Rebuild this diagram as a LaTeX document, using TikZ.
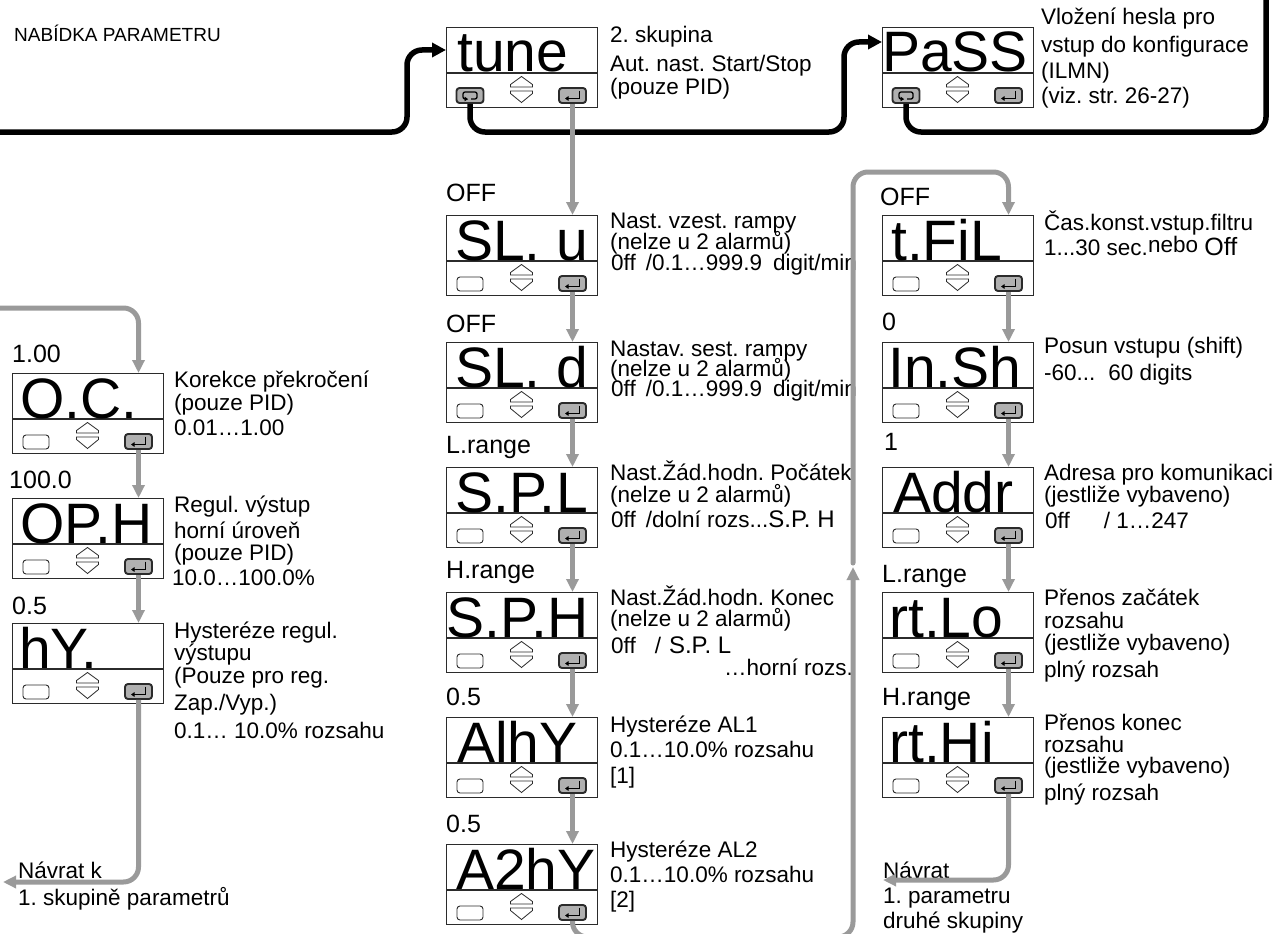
\documentclass[tikz,border=0pt]{standalone}
\usepackage{fontspec}
\setmainfont{Liberation Sans}
\newfontfamily\disptight{Liberation Sans}[WordSpace=0.05]
\usetikzlibrary{arrows.meta,calc}
\definecolor{lgray}{HTML}{9A9A9A}
\definecolor{btngray}{HTML}{B0B0B0}
\definecolor{dk}{HTML}{2B2B2B}
\frenchspacing
\tikzset{
 desc/.style={anchor=base west, inner sep=0pt, font=\fontsize{22.5}{24}\selectfont},
 descr/.style={desc, anchor=base east},
 lbl/.style={anchor=base west, inner sep=0pt, font=\fontsize{25}{26}\selectfont},
 ttl/.style={anchor=base west, inner sep=0pt, font=\fontsize{19}{20}\selectfont},
 dbox/.style={draw=dk, line width=1.1pt, minimum width=151pt, minimum height=80pt, anchor=north west, inner sep=0pt},
 dtxt/.style={anchor=base west, inner sep=0pt, font=\fontsize{57}{57}\selectfont},
 btnplain/.style={draw=dk, line width=0.9pt, rounded corners=3pt, minimum width=26pt, minimum height=14pt, inner sep=0pt, fill=white},
 btndark/.style={draw=dk, line width=1.9pt, rounded corners=3pt, minimum width=27pt, minimum height=15pt, inner sep=0pt, fill=btngray},
 chev/.style={draw=dk, line width=0.8pt},
 sym/.style={draw=black, line width=1.3pt},
 symarr/.style={-{Triangle[width=4.5pt,length=3.5pt]}},
 blk/.style={draw=black, line width=5.5pt, rounded corners=15pt},
 barr/.style={-{Triangle[width=14pt,length=14pt]}},
 gry/.style={draw=lgray, line width=5pt, rounded corners=15pt},
 garr/.style={-{Triangle[width=12pt,length=13pt]}},
 pics/disp/.style n args={3}{code={
   \node[dbox] (-box) at (0,0) {};
   \draw[draw=dk, line width=1.1pt] (0,46) -- (151,46);
   \node[dtxt] (-txt) at (#2,45) {#1};
   \draw[chev] (64.5,60) -- (64.5,57.5) -- (75.5,49.5) -- (86.5,57.5) -- (86.5,60) -- cycle;
   \draw[chev] (64.5,64) -- (86.5,64) -- (86.5,66.5) -- (75.5,75.5) -- (64.5,66.5) -- cycle;
   \ifnum#3=1
     \node[btndark] (-left) at (24,68.5) {};
     \draw[sym, rounded corners=2pt, symarr] (25,72) -- (31,72) -- (31,65) -- (17,65) -- (17,72) -- (22,72);
   \else
     \node[btnplain] (-left) at (24,69) {};
   \fi
   \node[btndark] (-enter) at (126.5,68.5) {};
   \draw[sym, symarr] (133.5,63.5) -- (133.5,71.5) -- (119,71.5);
 }}
}
\begin{document}
\begin{tikzpicture}[x=1pt,y=-1pt]
\fill[white] (0,0) rectangle (1280,934);
\useasboundingbox (0,0) rectangle (1280,934);

\node[ttl] (title) at (14,42) {NABÍDKA PARAMETRU};

% ---------- display boxes ----------
\pic (tune) at (446,27) {disp={tune}{11}{1}};
\pic (PaSS) at (882,27) {disp={PaSS}{0}{1}};

\pic (OC)  at (12,373) {disp={O.C.}{8}{0}};
\pic (OPH) at (12,498) {disp={{\disptight OP. H}}{8}{0}};
\pic (hY)  at (12,623) {disp={hY.}{7}{0}};

\pic (SLu)  at (446,215) {disp={SL. u}{9}{0}};
\pic (SLd)  at (446,342) {disp={SL. d}{9}{0}};
\pic (SPL)  at (446,467) {disp={{\disptight S.P. L}}{9}{0}};
\pic (SPH)  at (446,592) {disp={{\disptight S.P. H}}{0.3}{0}};
\pic (AlhY) at (446,717) {disp={AlhY}{11}{0}};
\pic (A2hY) at (446,844) {disp={A2hY}{10}{0}};

\pic (tFiL) at (882,215) {disp={t.FiL}{9}{0}};
\pic (InSh) at (882,342) {disp={In.Sh}{6}{0}};
\pic (Addr) at (882,467) {disp={Addr}{11}{0}};
\pic (rtLo) at (882,592) {disp={rt.Lo}{7}{0}};
\pic (rtHi) at (882,717) {disp={rt.Hi}{7}{0}};

% ---------- value labels ----------
\node[lbl] (vOC)  at (12,362) {1.00};
\node[lbl] (vOPH) at (9,488) {100.0};
\node[lbl] (vhY)  at (12,614) {0.5};
\node[lbl] (vSLu) at (446,201) {OFF};
\node[lbl] (vSLd) at (446,332) {OFF};
\node[lbl] (vSPL) at (446,453) {L.range};
\node[lbl] (vSPH) at (446,578) {H.range};
\node[lbl] (vA1)  at (446,705) {0.5};
\node[lbl] (vA2)  at (446,832) {0.5};
\node[lbl] (vtF)  at (880,205) {OFF};
\node[lbl] (vIn)  at (882,330) {0};
\node[lbl] (vAd)  at (884,450) {1};
\node[lbl] (vLo)  at (882,582) {L.range};
\node[lbl] (vHi)  at (882,705) {H.range};

% ---------- descriptions ----------
\node[desc] (dtu1) at (610,43) {2. skupina};
\node[desc] (dtu2) at (610,72) {Aut. nast. Start/Stop};
\node[desc] (dtu3) at (610,95) {(pouze PID)};

\node[desc] (dpa1) at (1041,25) {Vložení hesla pro};
\node[desc] (dpa2) at (1041,53) {vstup do konfigurace};
\node[desc] (dpa3) at (1041,78) {(ILMN)};
\node[desc] (dpa4) at (1041,103) {(viz. str. 26-27)};

\node[desc] (doc1) at (174,387) {Korekce překročení};
\node[desc] (doc2) at (174,410) {(pouze PID)};
\node[desc] (doc3) at (174,435) {0.01…1.00};

\node[desc] (doh1) at (174,512) {Regul. výstup};
\node[desc] (doh2) at (174,538) {horní úroveň};
\node[desc] (doh3) at (174,560) {(pouze PID)};
\node[desc] (doh4) at (172,585) {10.0…100.0\%};

\node[desc] (dhy1) at (174,638) {Hysteréze regul.};
\node[desc] (dhy2) at (174,660) {výstupu};
\node[desc] (dhy3) at (174,683) {(Pouze pro reg.};
\node[desc] (dhy4) at (174,710) {Zap./Vyp.)};
\node[desc] (dhy5) at (174,738) {0.1… 10.0\% rozsahu};

\node[desc] (dr11) at (18,878) {Návrat k};
\node[desc] (dr12) at (18,905) {1. skupině parametrů};

\node[desc] (dsu1) at (610,228) {Nast. vzest. rampy};
\node[desc] (dsu2) at (610,249) {(nelze u 2 alarmů)};
\node[desc] (dsu3) at (611,270) {0ff\hspace{10pt}/0.1…999.9\hspace{11pt}digit/min};

\node[desc] (dsd1) at (610,356) {Nastav. sest. rampy};
\node[desc] (dsd2) at (610,376) {(nelze u 2 alarmů)};
\node[desc] (dsd3) at (611,396) {0ff\hspace{10pt}/0.1…999.9\hspace{11pt}digit/min};

\node[desc] (dsl1) at (610,480) {Nast.Žád.hodn. Počátek};
\node[desc] (dsl2) at (610,502) {(nelze u 2 alarmů)};
\node[desc] (dsl3) at (611,527) {0ff\hspace{10pt}/dolní rozs...{\fontsize{24}{24}\selectfont S.P. H}};

\node[desc] (dsh1) at (610,605) {Nast.Žád.hodn. Konec};
\node[desc] (dsh2) at (610,626) {(nelze u 2 alarmů)};
\node[desc] (dsh3) at (611,653) {0ff\hspace{19pt}/\hspace{8pt}{\fontsize{24}{24}\selectfont S.P. L}};
\node[descr] (dsh4) at (853,675) {…horní rozs.};

\node[desc] (da11) at (610,732) {Hysteréze AL1};
\node[desc] (da12) at (610,757) {0.1…10.0\% rozsahu};
\node[desc] (da13) at (610,783) {[1]};

\node[desc] (da21) at (610,857) {Hysteréze AL2};
\node[desc] (da22) at (610,882) {0.1…10.0\% rozsahu};
\node[desc] (da23) at (610,907) {[2]};

\node[desc] (dtf1) at (1044,230) {Čas.konst.vstup.filtru};
\node[desc] (dtf2) at (1044,255) {1...30 sec.\raisebox{3pt}{nebo} {\fontsize{25}{25}\selectfont Off}};

\node[desc] (din1) at (1044,353) {Posun vstupu (shift)};
\node[desc] (din2) at (1044,380) {-60...\hspace{13pt}60 digits};

\node[desc] (dad1) at (1044,480) {Adresa pro komunikaci};
\node[desc] (dad2) at (1044,502) {(jestliže vybaveno)};
\node[desc] (dad3) at (1045,528) {0ff\hspace{34pt}/ 1…247};

\node[desc] (dlo1) at (1044,605) {Přenos začátek};
\node[desc] (dlo2) at (1044,628) {rozsahu};
\node[desc] (dlo3) at (1044,650) {(jestliže vybaveno)};
\node[desc] (dlo4) at (1044,677) {plný rozsah};

\node[desc] (dhi1) at (1044,730) {Přenos konec};
\node[desc] (dhi2) at (1044,752) {rozsahu};
\node[desc] (dhi3) at (1044,773) {(jestliže vybaveno)};
\node[desc] (dhi4) at (1044,800) {plný rozsah};

\node[desc] (dr21) at (883,878) {Návrat};
\node[desc] (dr22) at (883,903) {1. parametru};
\node[desc] (dr23) at (883,928) {druhé skupiny};

% ---------- helper coordinates ----------
\coordinate (bstart) at (0,132);
\coordinate (b1turn) at (407,132);
\coordinate (b2turn) at (844,132);
\coordinate (b3turn) at (1266,132);
\coordinate (b3end)  at (1266,-12);
\coordinate (tunein) at ($(tune-box.north west)+(0,23)$);
\coordinate (passin) at ($(PaSS-box.north west)+(0,15)$);
\coordinate (gstart) at (0,308);
\coordinate (ret1) at (3,882);
\coordinate (ret2) at (883,880);
\coordinate (lbot) at (853,937);
\coordinate (upA) at (853,567);
\coordinate (upB) at (853,563);
\coordinate (ltop) at (853,172);

% ---------- black connectors ----------
\draw[blk, barr] (bstart) -- (b1turn) -- (b1turn |- tunein) -- (tunein);
\draw[blk, barr] (tune-left.south) -- (tune-left.south |- bstart) -- (b2turn) -- (b2turn |- passin) -- (passin);
\draw[blk] (PaSS-left.south) -- (PaSS-left.south |- bstart) -- (b3turn) -- (b3end);

% ---------- gray connectors ----------
\draw[gry, garr] (gstart) -- (OC-enter |- gstart) -- (OC-enter |- OC-box.north);
\draw[gry, garr] (OC-enter.south) -- (OC-enter.south |- OPH-box.north);
\draw[gry, garr] (OPH-enter.south) -- (OPH-enter.south |- hY-box.north);
\draw[gry, garr] (hY-enter.south) -- (hY-enter.south |- ret1) -- (ret1);

\draw[gry, garr] (tune-enter.south) -- (tune-enter.south |- SLu-box.north);
\draw[gry, garr] (SLu-enter.south) -- (SLu-enter.south |- SLd-box.north);
\draw[gry, garr] (SLd-enter.south) -- (SLd-enter.south |- SPL-box.north);
\draw[gry, garr] (SPL-enter.south) -- (SPL-enter.south |- SPH-box.north);
\draw[gry, garr] (SPH-enter.south) -- (SPH-enter.south |- AlhY-box.north);
\draw[gry, garr] (AlhY-enter.south) -- (AlhY-enter.south |- A2hY-box.north);
\draw[gry, garr] (A2hY-enter.south) -- (A2hY-enter.south |- lbot) -- (lbot) -- (upA);
\draw[gry, garr, line cap=round] (upB) -- (ltop) -- (tFiL-enter |- ltop) -- (tFiL-enter |- tFiL-box.north);

\draw[gry, garr] (tFiL-enter.south) -- (tFiL-enter.south |- InSh-box.north);
\draw[gry, garr] (InSh-enter.south) -- (InSh-enter.south |- Addr-box.north);
\draw[gry, garr] (Addr-enter.south) -- (Addr-enter.south |- rtLo-box.north);
\draw[gry, garr] (rtLo-enter.south) -- (rtLo-enter.south |- rtHi-box.north);
\draw[gry, garr] (rtHi-enter.south) -- (rtHi-enter.south |- ret2) -- (ret2);
\end{tikzpicture}
\end{document}
